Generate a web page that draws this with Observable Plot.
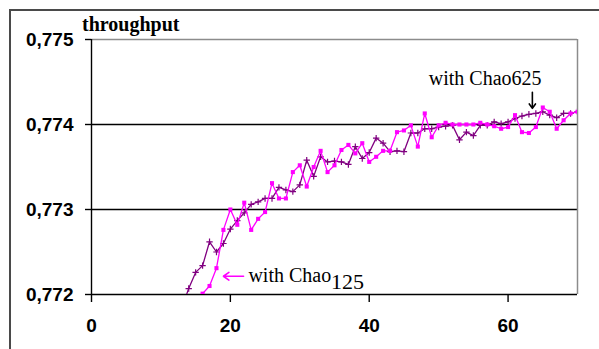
<!DOCTYPE html>
<html><head><meta charset="utf-8">
<script src="https://cdn.jsdelivr.net/npm/d3@7"></script>
<script src="https://cdn.jsdelivr.net/npm/@observablehq/plot@0.6"></script>
<style>
html,body{margin:0;padding:0;background:#fff;}
#wrap{position:relative;width:599px;height:349px;overflow:hidden;}
#frame{position:absolute;left:9px;top:9px;width:600px;height:350px;border-top:2px solid #4a4a4a;border-left:2px solid #4a4a4a;pointer-events:none;}
</style></head><body><div id="wrap"><div id="frame"></div></div>
<script>
// Series: "with Chao625" (dark purple, markers) and "with Chao125" (magenta, squares)
const purpleX = [13,14,15,16,17,18,19,20,21,22,23,24,25,26,27,28,29,30,31,32,33,34,35,36,37,38,39,40,41,42,43,44,45,46,47,48,49,50,51,52,53,54,55,56,57,58,59,60,61,62,63,64,65,66,67,68,69,70];
const purpleY = [0.77184,0.77207,0.77226,0.77234,0.77262,0.77250,0.77260,0.77277,0.77287,0.77296,0.77306,0.77309,0.77313,0.77313,0.77326,0.77323,0.77321,0.77329,0.77358,0.77339,0.77362,0.77356,0.77357,0.77356,0.77353,0.77374,0.77360,0.77367,0.77384,0.77378,0.77368,0.77369,0.77368,0.77390,0.77390,0.77395,0.77395,0.77397,0.77398,0.77399,0.77382,0.77391,0.77387,0.77399,0.77399,0.77403,0.77401,0.77403,0.77407,0.77410,0.77412,0.77413,0.77415,0.77411,0.77408,0.77413,0.77413,0.77415];
const magentaX = [16,17,18,19,20,21,22,23,24,25,26,27,28,29,30,31,32,33,34,35,36,37,38,39,40,41,42,43,44,45,46,47,48,49,50,51,52,53,54,55,56,57,58,59,60,61,62,63,64,65,66,67,68,69,70];
const magentaY = [0.77201,0.77210,0.77231,0.77276,0.77300,0.77282,0.77308,0.77276,0.77289,0.77297,0.77331,0.77313,0.77313,0.77344,0.77352,0.77327,0.77350,0.77369,0.77344,0.77352,0.77370,0.77376,0.77366,0.77378,0.77356,0.77362,0.77369,0.77369,0.77391,0.77393,0.77399,0.77374,0.77413,0.77385,0.77399,0.77402,0.77400,0.77400,0.77400,0.77400,0.77402,0.77400,0.77398,0.77395,0.77397,0.77411,0.77391,0.77390,0.77397,0.77420,0.77415,0.77395,0.77405,0.77413,0.77415];

const xTicks = [0, 20, 40, 60];
const yTicks = [0.772, 0.773, 0.774, 0.775];
const yTickLabels = ["0,772", "0,773", "0,774", "0,775"];
const gridValues = [0.773, 0.774];
const yTitle = "throughput";
const label625 = "with Chao625";
const label125 = "with Chao";
const label125sub = "125";

const purple = purpleX.map((x, i) => ({x, y: purpleY[i]}));
const magenta = magentaX.map((x, i) => ({x, y: magentaY[i]}));
const yLabelMap = new Map(yTicks.map((t, i) => [t, yTickLabels[i]]));

const PURPLE = "#800080", MAGENTA = "#ff00ff";

const plot = Plot.plot({
  width: 599, height: 349,
  marginLeft: 91, marginRight: 22, marginTop: 39, marginBottom: 55,
  x: {domain: [0, 70]},
  y: {domain: [0.772, 0.775]},
  style: {background: "transparent", fontFamily: "Liberation Sans", color: "#000"},
  marks: [
    Plot.ruleY(gridValues, {stroke: "#000", strokeWidth: 1.4}),
    Plot.ruleY([0.775], {stroke: "#8c8c8c", strokeWidth: 1.5}),
    Plot.ruleX([70], {stroke: "#8c8c8c", strokeWidth: 1.5}),
    Plot.ruleY([0.772], {stroke: "#000", strokeWidth: 1.4}),
    Plot.ruleX([0], {stroke: "#000", strokeWidth: 1.4}),
    Plot.axisX({ticks: xTicks, tickSize: 8, tickPadding: 16, fontSize: 19, fontWeight: "bold", label: null, strokeWidth: 1.4}),
    Plot.axisY({ticks: yTicks, tickFormat: d => yLabelMap.get(d), tickSize: 6, tickPadding: 12, fontSize: 19, fontWeight: "bold", label: null, strokeWidth: 1.4}),
    Plot.line(purple, {x: "x", y: "y", stroke: PURPLE, strokeWidth: 1.3, clip: true}),
    Plot.dot(purple, {x: "x", y: "y", symbol: "plus", r: 2.2, stroke: PURPLE, strokeWidth: 1.2, clip: true}),
    Plot.line(magenta, {x: "x", y: "y", stroke: MAGENTA, strokeWidth: 1.3, clip: true}),
    Plot.dot(magenta, {x: "x", y: "y", symbol: "square", r: 2.3, fill: MAGENTA, stroke: "none", clip: true}),
    Plot.text([label625], {x: 56.7, y: 0.774545, text: d => d, fontFamily: "Liberation Serif", fontSize: 20, fill: "#000"}),
    Plot.arrow([0], {x1: 63.5, y1: 0.77438, x2: 63.5, y2: 0.77419, stroke: "#000", strokeWidth: 1.6, headLength: 9, headAngle: 70}),
    Plot.text([label125], {x: 22.6, y: 0.772227, text: d => d, textAnchor: "start", fontFamily: "Liberation Serif", fontSize: 20, fill: "#000"}),
    Plot.text([label125sub], {x: 34.5, y: 0.772150, text: d => d, textAnchor: "start", fontFamily: "Liberation Serif", fontSize: 22, fill: "#000"}),
    Plot.arrow([0], {x1: 21.9, y1: 0.772215, x2: 19.0, y2: 0.772215, stroke: MAGENTA, strokeWidth: 1.6, headLength: 9, headAngle: 70})
  ]
});

const svg = d3.select(plot);
svg.append("text")
  .attr("x", 82).attr("y", 31)
  .attr("text-anchor", "start")
  .attr("font-family", "Liberation Serif")
  .attr("font-weight", "bold")
  .attr("font-size", 20)
  .attr("fill", "#000")
  .text(yTitle);

const wrap = document.getElementById("wrap");
wrap.insertBefore(plot, wrap.firstChild);
</script>
</body></html>
